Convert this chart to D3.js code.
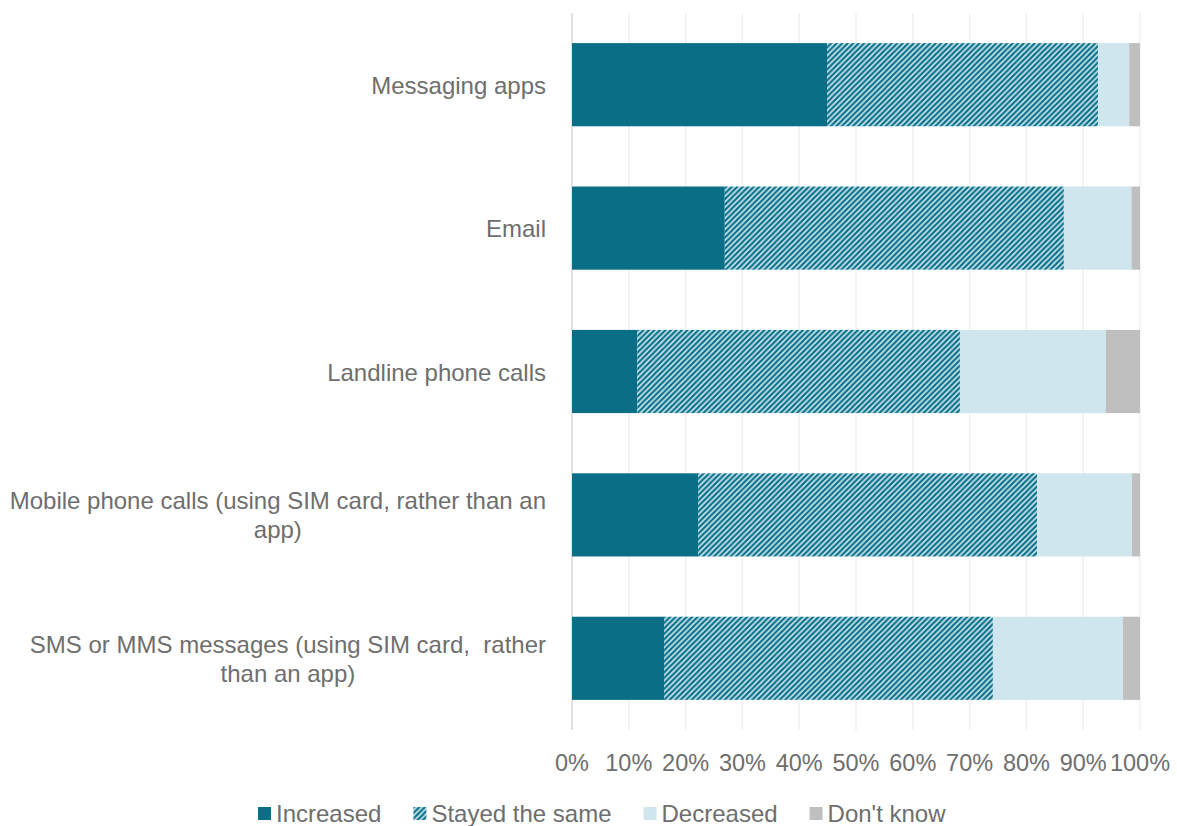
<!DOCTYPE html>
<html>
<head>
<meta charset="utf-8">
<script src="https://cdn.jsdelivr.net/npm/d3@7"></script>
<style>
  body { margin: 0; background: #fff; }
  svg text { font-family: "Liberation Sans", Arial, sans-serif; fill: #6e6e6e; }
</style>
</head>
<body>
<div class="holder"></div>
<script>
// categories, top to bottom
var categories = [
    ["Messaging apps"],
    ["Email"],
    ["Landline phone calls"],
    ["Mobile phone calls (using SIM card, rather than an", "app)"],
    ["SMS or MMS messages (using SIM card,  rather", "than an app)"]
];
var seriesNames = ["Increased", "Stayed the same", "Decreased", "Don't know"];

// percentages
var increased = [44.9, 26.9, 11.5, 22.2, 16.2];
var stayed    = [47.7, 59.7, 56.8, 59.7, 57.9];
var decreased = [5.5, 11.9, 25.7, 16.7, 22.9];
var dontKnow  = [1.9, 1.5, 6.0, 1.4, 3.0];

var tickValues = [0, 10, 20, 30, 40, 50, 60, 70, 80, 90, 100];

var width = 1177, height = 826;

var svg = d3.select(".holder").append("svg")
    .attr("width", width)
    .attr("height", height);

var defs = svg.append("defs");
var pat = defs.append("pattern")
    .attr("id", "hatch")
    .attr("patternUnits", "userSpaceOnUse")
    .attr("width", 5.5)
    .attr("height", 5.5);
pat.append("rect").attr("width", 5.5).attr("height", 5.5).attr("fill", "#cde7f0");
pat.append("path")
    .attr("d", "M-1,1 L1,-1 M0,5.5 L5.5,0 M4.5,6.5 L6.5,4.5")
    .attr("stroke", "#0c7189")
    .attr("stroke-width", 2.2);

var colors = ["#0b6e87", "url(#hatch)", "#cfe6ef", "#bfbfbf"];

var x = d3.scaleLinear().domain([0, 100]).range([572, 1140]);
var y = d3.scaleBand()
    .domain(d3.range(categories.length))
    .range([13, 730])
    .paddingInner(0.42)
    .paddingOuter(0.21);

// gridlines
svg.append("g")
    .selectAll("line")
    .data(tickValues)
    .enter().append("line")
    .attr("x1", d => x(d))
    .attr("x2", d => x(d))
    .attr("y1", 13)
    .attr("y2", 730)
    .attr("stroke", d => d == 0 ? "#d9d9d9" : "#eeeeee")
    .attr("stroke-width", d => d == 0 ? 1.5 : 1.3);

// stacked bars
var rows = categories.map(function(c, i) {
    return [increased[i], stayed[i], decreased[i], dontKnow[i]];
});

rows.forEach(function(vals, i) {
    var start = 0;
    vals.forEach(function(v, j) {
        svg.append("rect")
            .attr("x", x(start))
            .attr("y", y(i))
            .attr("width", x(start + v) - x(start))
            .attr("height", y.bandwidth())
            .attr("fill", colors[j]);
        start += v;
    });
});

// category labels: block right-aligned at 546, lines centred within the block
categories.forEach(function(lines, i) {
    var cy = y(i) + y.bandwidth() / 2;
    var lh = 29;
    var t = svg.append("text")
        .attr("text-anchor", "middle")
        .style("font-size", "24px")
        .style("white-space", "pre");
    var spans = lines.map(function(l, k) {
        return t.append("tspan")
            .attr("y", cy + 9 + (k - (lines.length - 1) / 2) * lh)
            .text(l);
    });
    var maxW = d3.max(spans, s => s.node().getComputedTextLength());
    spans.forEach(s => s.attr("x", 546 - maxW / 2));
});

// x axis tick labels
svg.append("g")
    .selectAll("text")
    .data(tickValues)
    .enter().append("text")
    .attr("x", d => x(d))
    .attr("y", 771)
    .attr("text-anchor", "middle")
    .style("font-size", "23.5px")
    .text(d => d + "%");

// legend
var legend = svg.append("g");
var lx = 258;
seriesNames.forEach(function(name, i) {
    legend.append("rect")
        .attr("x", lx)
        .attr("y", 807)
        .attr("width", 13)
        .attr("height", 13)
        .attr("fill", colors[i]);
    var t = legend.append("text")
        .attr("x", lx + 18)
        .attr("y", 822)
        .style("font-size", "24px")
        .text(name);
    lx += 18 + t.node().getComputedTextLength() + 32;
});
</script>
</body>
</html>
